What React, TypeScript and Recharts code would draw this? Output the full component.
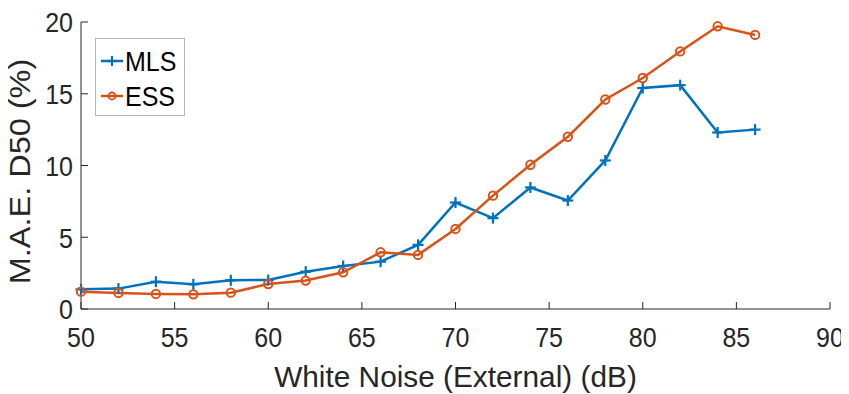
import React from 'react';
import { LineChart, Line, XAxis, YAxis, Legend } from 'recharts';

const noiseDb = [50, 52, 54, 56, 58, 60, 62, 64, 66, 68, 70, 72, 74, 76, 78, 80, 82, 84, 86];
const mlsValues = [1.37, 1.42, 1.9, 1.72, 2.0, 2.02, 2.6, 3.0, 3.3, 4.47, 7.42, 6.33, 8.47, 7.56, 10.35, 15.4, 15.6, 12.3, 12.5];
const essValues = [1.21, 1.12, 1.05, 1.02, 1.14, 1.74, 1.98, 2.56, 3.95, 3.77, 5.58, 7.9, 10.05, 12.0, 14.6, 16.1, 17.95, 19.7, 19.1];
const xTicks = [50, 55, 60, 65, 70, 75, 80, 85, 90];
const yTicks = [0, 5, 10, 15, 20];
const seriesNames = ['MLS', 'ESS'];

const data = noiseDb.map((x, i) => ({ x, mls: mlsValues[i], ess: essValues[i] }));

const BLUE = '#0072BD';
const ORANGE = '#D95319';
const INK = '#262626';
const FONT = '"Liberation Sans", Arial, Helvetica, sans-serif';
const TICK_FS = 25;
const TICK_STRETCH = 1.1;
const LABEL_FS = 29;
const X_MARGIN = 18;
const Y_MARGIN = 8;
const TICK_LEN = 7;

const PlusDot = (props: any) => {
  const { cx, cy } = props;
  if (cx == null || cy == null) return null;
  const s = 5.5;
  return (
    <g>
      <line x1={cx - s} y1={cy} x2={cx + s} y2={cy} stroke={BLUE} strokeWidth={2.2} />
      <line x1={cx} y1={cy - s} x2={cx} y2={cy + s} stroke={BLUE} strokeWidth={2.2} />
    </g>
  );
};

const CircleDot = (props: any) => {
  const { cx, cy } = props;
  if (cx == null || cy == null) return null;
  return <circle cx={cx} cy={cy} r={4.2} fill="none" stroke={ORANGE} strokeWidth={2} />;
};

const XTick = (props: any) => {
  const { x, y, payload } = props;
  const axisY = y - X_MARGIN;
  const base = axisY + 38;
  return (
    <g>
      <line x1={x} y1={axisY} x2={x} y2={axisY - TICK_LEN} stroke={INK} strokeWidth={1} />
      <text
        x={x}
        y={base}
        transform={`translate(0 ${base}) scale(1 ${TICK_STRETCH}) translate(0 ${-base})`}
        textAnchor="middle"
        fontSize={TICK_FS}
        fontFamily={FONT}
        fill={INK}
      >
        {payload.value}
      </text>
    </g>
  );
};

const YTick = (props: any) => {
  const { x, y, payload } = props;
  const axisX = x + Y_MARGIN;
  const base = y + 10.5;
  return (
    <g>
      <line x1={axisX} y1={y} x2={axisX + TICK_LEN} y2={y} stroke={INK} strokeWidth={1} />
      <text
        x={x}
        y={base}
        transform={`translate(0 ${base}) scale(1 ${TICK_STRETCH}) translate(0 ${-base})`}
        textAnchor="end"
        fontSize={TICK_FS}
        fontFamily={FONT}
        fill={INK}
      >
        {payload.value}
      </text>
    </g>
  );
};

const renderLegend = () => {
  const rows = [
    { name: seriesNames[0], color: BLUE, marker: 'plus' },
    { name: seriesNames[1], color: ORANGE, marker: 'circle' },
  ];
  return (
    <div
      style={{
        width: 88,
        height: 76,
        border: '1px solid #b4b4b4',
        background: '#fff',
        boxSizing: 'content-box',
        position: 'relative',
      }}
    >
      {rows.map((r, i) => (
        <div key={r.name} style={{ position: 'absolute', left: 4, top: 8 + i * 35, height: 28, display: 'flex', alignItems: 'center' }}>
          <svg width={24} height={28}>
            <line x1={1} y1={14} x2={23} y2={14} stroke={r.color} strokeWidth={2.5} />
            {r.marker === 'plus' ? (
              <g>
                <line x1={7} y1={14} x2={17} y2={14} stroke={r.color} strokeWidth={2.2} />
                <line x1={12} y1={9} x2={12} y2={19} stroke={r.color} strokeWidth={2.2} />
              </g>
            ) : (
              <circle cx={12} cy={14} r={3.5} fill="none" stroke={r.color} strokeWidth={1.8} />
            )}
          </svg>
          <span
            style={{
              fontFamily: FONT,
              fontSize: 25,
              color: '#000',
              marginLeft: 1,
              lineHeight: '28px',
              display: 'inline-block',
              transform: 'scaleY(1.08)',
            }}
          >
            {r.name}
          </span>
        </div>
      ))}
    </div>
  );
};

const YLabel = (props: any) => {
  const { viewBox } = props;
  const cx = viewBox.x + 30;
  const cy = viewBox.y + viewBox.height / 2 + 6;
  return (
    <text
      x={0}
      y={0}
      transform={`translate(${cx} ${cy}) rotate(-90) scale(1.12 1)`}
      textAnchor="middle"
      fontSize={LABEL_FS}
      fontFamily={FONT}
      fill={INK}
    >
      M.A.E. D50 (%)
    </text>
  );
};

const XLabel = (props: any) => {
  const { viewBox } = props;
  const cx = viewBox.x + viewBox.width / 2;
  const cy = viewBox.y + 78;
  return (
    <text x={cx} y={cy} textAnchor="middle" fontSize={29.8} fontFamily={FONT} fill={INK}>
      White Noise (External) (dB)
    </text>
  );
};

export default function App() {
  return (
    <div style={{ margin: '-8px 0 0 -8px', width: 849, height: 394, background: '#fff' }}>
      <LineChart width={849} height={394} data={data} margin={{ top: 22, right: 19, left: 0, bottom: 0 }}>
        <XAxis
          xAxisId="x"
          dataKey="x"
          type="number"
          domain={[50, 90]}
          ticks={xTicks}
          height={85}
          tickLine={false}
          tickSize={0}
          tickMargin={X_MARGIN}
          axisLine={{ stroke: INK, strokeWidth: 1 }}
          tick={<XTick />}
          label={<XLabel />}
          interval={0}
        />
        <XAxis
          xAxisId="top"
          dataKey="x"
          type="number"
          orientation="top"
          domain={[50, 90]}
          ticks={xTicks}
          height={0}
          mirror
          tickSize={TICK_LEN}
          tickFormatter={() => ''}
          tickLine={{ stroke: INK }}
          axisLine={{ stroke: INK, strokeWidth: 1 }}
          interval={0}
        />
        <YAxis
          yAxisId="y"
          type="number"
          domain={[0, 20]}
          ticks={yTicks}
          width={81}
          tickLine={false}
          tickSize={0}
          tickMargin={Y_MARGIN}
          axisLine={{ stroke: INK, strokeWidth: 1 }}
          tick={<YTick />}
          label={<YLabel />}
          interval={0}
        />
        <YAxis
          yAxisId="right"
          type="number"
          orientation="right"
          domain={[0, 20]}
          ticks={yTicks}
          width={0}
          mirror
          tickSize={TICK_LEN}
          tickFormatter={() => ''}
          tickLine={{ stroke: INK }}
          axisLine={{ stroke: INK, strokeWidth: 1 }}
          interval={0}
        />
        <Legend
          layout="vertical"
          align="center"
          verticalAlign="middle"
          content={renderLegend}
          wrapperStyle={{ left: 95, top: 38, width: 90, height: 78 }}
        />
        <Line
          xAxisId="x"
          yAxisId="y"
          dataKey="mls"
          name={seriesNames[0]}
          stroke={BLUE}
          strokeWidth={2.5}
          dot={<PlusDot />}
          isAnimationActive={false}
        />
        <Line
          xAxisId="x"
          yAxisId="y"
          dataKey="ess"
          name={seriesNames[1]}
          stroke={ORANGE}
          strokeWidth={2.5}
          dot={<CircleDot />}
          isAnimationActive={false}
        />
      </LineChart>
    </div>
  );
}
